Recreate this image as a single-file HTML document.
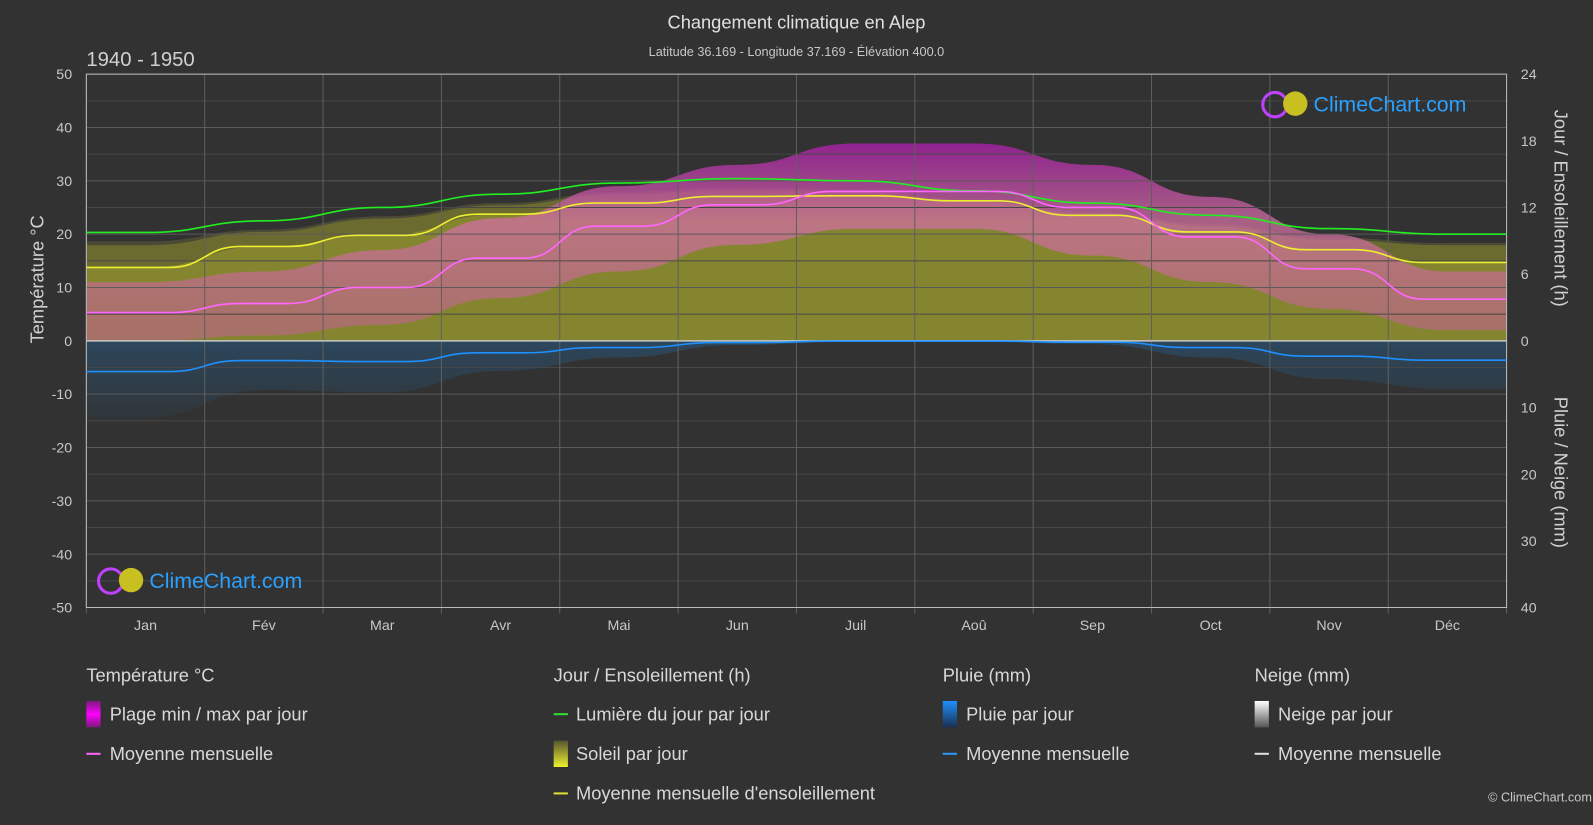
<!DOCTYPE html>
<html><head><meta charset="utf-8"><style>
body{margin:0;background:#323232;width:1593px;height:825px;overflow:hidden;font-family:"Liberation Sans",sans-serif;}
svg{display:block}
</style></head><body>
<svg id="chart" width="1593" height="825" xmlns="http://www.w3.org/2000/svg">
<defs>
<linearGradient id="gMag" x1="0" y1="0" x2="0" y2="1"><stop offset="0" stop-color="#7a1a7a"/><stop offset="0.5" stop-color="#ff00ff"/><stop offset="1" stop-color="#7a1a7a"/></linearGradient>
<linearGradient id="gSun" x1="0" y1="0" x2="0" y2="1"><stop offset="0" stop-color="#555530"/><stop offset="1" stop-color="#f0f030"/></linearGradient>
<linearGradient id="gRain" x1="0" y1="0" x2="0" y2="1"><stop offset="0" stop-color="#1e90ff"/><stop offset="1" stop-color="#1a3050"/></linearGradient>
<linearGradient id="gSnow" x1="0" y1="0" x2="0" y2="1"><stop offset="0" stop-color="#ffffff"/><stop offset="1" stop-color="#555"/></linearGradient>
<linearGradient id="gBand" x1="0" y1="0" x2="0" y2="1"><stop offset="0" stop-color="#a020a0" stop-opacity="0.85"/><stop offset="0.4" stop-color="#d070a0" stop-opacity="0.75"/><stop offset="1" stop-color="#c06090" stop-opacity="0.55"/></linearGradient>
<linearGradient id="gRainA" x1="0" y1="0" x2="0" y2="1"><stop offset="0" stop-color="#2a5070" stop-opacity="0.7"/><stop offset="1" stop-color="#2a4a60" stop-opacity="0.2"/></linearGradient>
</defs>
<g transform="scale(1.0159)">
<g id="plot"></g>
<text x="784" y="28" fill="#e0e0e0" font-size="18" text-anchor="middle">Changement climatique en Alep</text>
<text x="784" y="55" fill="#c8c8c8" font-size="12.5" text-anchor="middle">Latitude 36.169 - Longitude 37.169 - Élévation 400.0</text>
<text x="85" y="65" fill="#d0d0d0" font-size="20">1940 - 1950</text>
<text transform="translate(43,275) rotate(-90)" fill="#d0d0d0" font-size="18" text-anchor="middle">Température °C</text>
<text transform="translate(1530,205) rotate(90)" fill="#d0d0d0" font-size="18" text-anchor="middle">Jour / Ensoleillement (h)</text>
<text transform="translate(1530,465) rotate(90)" fill="#d0d0d0" font-size="18" text-anchor="middle">Pluie / Neige (mm)</text>
<g>
<circle cx="1255" cy="103" r="12" fill="none" stroke="#c040ff" stroke-width="3"/><circle cx="1275" cy="102" r="12" fill="#c8c020"/>
<text x="1293" y="110" fill="#2aa0ff" font-size="21">ClimeChart.com</text></g>
<g>
<circle cx="109" cy="572" r="12" fill="none" stroke="#c040ff" stroke-width="3"/><circle cx="129" cy="571" r="12" fill="#c8c020"/>
<text x="147" y="579" fill="#2aa0ff" font-size="21">ClimeChart.com</text></g>
<g font-size="18" fill="#d8d8d8">
<text x="85" y="671">Température °C</text>
<rect x="85" y="690" width="14" height="26" fill="url(#gMag)"/><text x="108" y="709">Plage min / max par jour</text>
<line x1="85" x2="99" y1="742" y2="742" stroke="#ff66ff" stroke-width="2"/><text x="108" y="748">Moyenne mensuelle</text>
<text x="545" y="671">Jour / Ensoleillement (h)</text>
<line x1="545" x2="559" y1="703" y2="703" stroke="#33dd33" stroke-width="2"/><text x="567" y="709">Lumière du jour par jour</text>
<rect x="545" y="729" width="14" height="26" fill="url(#gSun)"/><text x="567" y="748">Soleil par jour</text>
<line x1="545" x2="559" y1="781" y2="781" stroke="#e0e030" stroke-width="2"/><text x="567" y="787">Moyenne mensuelle d'ensoleillement</text>
<text x="928" y="671">Pluie (mm)</text>
<rect x="928" y="690" width="14" height="26" fill="url(#gRain)"/><text x="951" y="709">Pluie par jour</text>
<line x1="928" x2="942" y1="742" y2="742" stroke="#2a9aff" stroke-width="2"/><text x="951" y="748">Moyenne mensuelle</text>
<text x="1235" y="671">Neige (mm)</text>
<rect x="1235" y="690" width="14" height="26" fill="url(#gSnow)"/><text x="1258" y="709">Neige par jour</text>
<line x1="1235" x2="1249" y1="742" y2="742" stroke="#e0e0e0" stroke-width="2"/><text x="1258" y="748">Moyenne mensuelle</text>
</g>
<text x="1567" y="789" fill="#c8c8c8" font-size="12.5" text-anchor="end">© ClimeChart.com</text>
</g>
</svg>
<script>
const months=["Jan","Fév","Mar","Avr","Mai","Jun","Juil","Aoû","Sep","Oct","Nov","Déc"];
const tempMean=[5.3,7,10,15.5,21.5,25.5,28,28,25,19.5,13.5,7.8];
const tempMax=[11,13,17,23,29,33,37,37,33,27,20,13];
const tempMin=[0,1,3,8,13,18,21,21,16,11,6,2];
const daylight=[9.75,10.8,12,13.2,14.2,14.6,14.4,13.5,12.4,11.3,10.1,9.6];
const sunshine=[6.6,8.5,9.5,11.4,12.4,13,13.05,12.6,11.3,9.8,8.2,7.05];
const rainMean=[4.6,2.95,3.1,1.8,1.0,0.25,0.05,0.05,0.2,1.0,2.3,2.9];
const leftTicks=[50,40,30,20,10,0,-10,-20,-30,-40,-50];
const rightHourTicks=[24,18,12,6,0];
const rightRainTicks=[10,20,30,40];

const X0=85,X1=1483,Y0=73,Y1=598;
const NS="http://www.w3.org/2000/svg";
const g=document.getElementById('plot');
function yT(t){return Y0+(50-t)/100*(Y1-Y0);}
function yH(h){return yT(h*50/24);}
function yR(mm){return yT(0)+mm/40*(Y1-yT(0));}
const mw=(X1-X0)/12;
function xM(i){return X0+(i+0.5)*mw;}
function mk(tag,attrs){const e=document.createElementNS(NS,tag);for(const k in attrs)e.setAttribute(k,attrs[k]);g.appendChild(e);return e;}
function pts(arr,fy){const p=[[X0,fy(arr[0])]];arr.forEach((v,i)=>{p.push([xM(i)-mw*0.2,fy(v)]);p.push([xM(i)+mw*0.2,fy(v)]);});p.push([X1,fy(arr[arr.length-1])]);return p;}
function cpts(arr,fy){const p=[[X0,fy(arr[0])]];arr.forEach((v,i)=>p.push([xM(i),fy(v)]));p.push([X1,fy(arr[arr.length-1])]);return p;}
function smooth(p){let d="M"+p[0][0]+","+p[0][1];for(let i=1;i<p.length;i++){const a=p[i-1],b=p[i];const mx=(a[0]+b[0])/2;d+=" C"+mx+","+a[1]+" "+mx+","+b[1]+" "+b[0]+","+b[1];}return d;}
function area(top,bot){const a=smooth(top);const br=bot.slice().reverse();let d=a+" L"+br[0][0]+","+br[0][1];for(let i=1;i<br.length;i++){const p=br[i-1],q=br[i];const mx=(p[0]+q[0])/2;d+=" C"+mx+","+p[1]+" "+mx+","+q[1]+" "+q[0]+","+q[1];}return d+"Z";}
const zero=tempMean.map(()=>0);
let e=mk('path',{d:area(cpts(daylight.map(v=>v-0.8),yH),cpts(zero,yH)),fill:'#4a4a36'});

e=mk('path',{d:area(cpts(daylight.map((v,i)=>Math.min(v-1,sunshine[i]+2)),yH),cpts(zero,yH)),fill:'#6b6b30'});

e=mk('path',{d:area(cpts(sunshine,yH),cpts(zero,yH)),fill:'#858530'});

e=mk('path',{d:area(cpts(tempMax,yT),cpts(tempMin,yT)),fill:'url(#gBand)'});

e=mk('path',{d:area(cpts(zero,yR),cpts(rainMean.map(v=>v*2.5),yR)),fill:'url(#gRainA)'});

leftTicks.forEach(t=>{const l=mk('line',{x1:X0,x2:X1,y1:yT(t),y2:yT(t),stroke:'#5a5a5a','stroke-width':1});

if(t>-50){const m=mk('line',{x1:X0,x2:X1,y1:yT(t-5),y2:yT(t-5),stroke:'#474747','stroke-width':1});
}
const tx=mk('text',{x:X0-14,y:yT(t)+5,fill:'#c8c8c8','font-size':14,'text-anchor':'end'});tx.textContent=t;
});
for(let i=0;i<=12;i++){const l=mk('line',{x1:X0+i*mw,x2:X0+i*mw,y1:Y0,y2:Y1+6,stroke:'#5f5f5f','stroke-width':1});
}
months.forEach((m,i)=>{const t=mk('text',{x:xM(i),y:620,fill:'#c8c8c8','font-size':14,'text-anchor':'middle'});t.textContent=m;
});
rightHourTicks.forEach(h=>{const t=mk('text',{x:X1+14,y:yH(h)+5,fill:'#c8c8c8','font-size':14});t.textContent=h;
});
rightRainTicks.forEach(r=>{const t=mk('text',{x:X1+14,y:yR(r)+5,fill:'#c8c8c8','font-size':14});t.textContent=r;
});
e=mk('line',{x1:X0,x2:X1,y1:yT(0),y2:yT(0),stroke:'#c8c8c8','stroke-width':1.5});

e=mk('rect',{x:X0,y:Y0,width:X1-X0,height:Y1-Y0,fill:'none',stroke:'#bbb','stroke-width':1});

e=mk('path',{d:smooth(cpts(daylight,yH)),fill:'none',stroke:'#22ee22','stroke-width':1.6});

e=mk('path',{d:smooth(pts(sunshine,yH)),fill:'none',stroke:'#eeee30','stroke-width':1.6});

e=mk('path',{d:smooth(pts(tempMean,yT)),fill:'none',stroke:'#ff66ff','stroke-width':1.6});

e=mk('path',{d:smooth(pts(rainMean,yR)),fill:'none',stroke:'#1e90ff','stroke-width':1.6});

</script>
</body></html>
